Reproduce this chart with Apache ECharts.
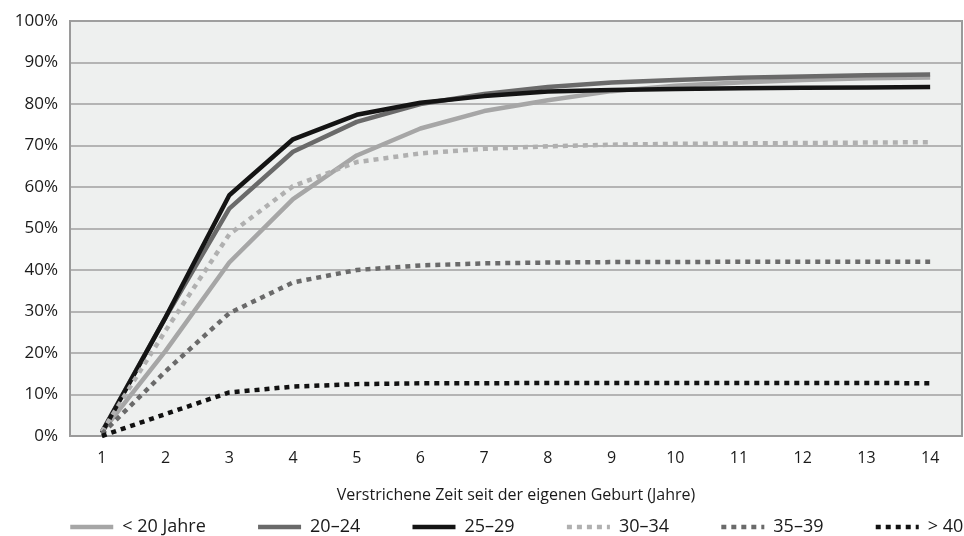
<!DOCTYPE html>
<html>
<head>
<meta charset="utf-8">
<script src="https://cdn.jsdelivr.net/npm/echarts@6/dist/echarts.min.js"></script>
<style>
  html, body { margin: 0; padding: 0; background: #fff; }
  #chart { width: 964px; height: 536px; }
</style>
</head>
<body>
<div id="chart"></div>
<script>
// Jahre seit der eigenen Geburt
const years = ['1', '2', '3', '4', '5', '6', '7', '8', '9', '10', '11', '12', '13', '14'];

// Anteile in Prozent je Altersgruppe
const under20 = [1, 20.5, 41.8, 57.1, 67.6, 74.1, 78.3, 80.9, 83.1, 84.4, 85.2, 85.8, 86.2, 86.4];
const age20to24 = [1, 28.6, 54.8, 68.5, 75.7, 80.0, 82.4, 84.1, 85.2, 85.8, 86.3, 86.6, 86.9, 87.1];
const age25to29 = [0.8, 28.6, 58.0, 71.5, 77.4, 80.3, 81.9, 83.0, 83.4, 83.6, 83.8, 83.9, 84.0, 84.1];
const age30to34 = [1, 25.4, 48.6, 60.2, 66.0, 68.1, 69.2, 69.8, 70.2, 70.4, 70.5, 70.6, 70.7, 70.8];
const age35to39 = [0.5, 15.6, 29.6, 37.0, 40.0, 41.1, 41.6, 41.8, 41.9, 41.9, 42.0, 42.0, 42.0, 42.0];
const over40 = [0, 5.3, 10.5, 11.9, 12.5, 12.7, 12.7, 12.8, 12.8, 12.8, 12.8, 12.8, 12.8, 12.7];

const seriesNames = ['< 20 Jahre', '20–24', '25–29', '30–34', '35–39', '> 40'];
const seriesData = [under20, age20to24, age25to29, age30to34, age35to39, over40];

const font = '"Open Sans", "Noto Sans", sans-serif';

// Farbe und Strichart je Serie
const styles = [
  { color: '#a6a6a6', type: 'solid' },
  { color: '#6a6a6a', type: 'solid' },
  { color: '#141414', type: 'solid' },
  { color: '#b0b0b0', type: [5, 5] },
  { color: '#6a6a6a', type: [5, 5] },
  { color: '#111111', type: [5, 5] }
];

const chart = echarts.init(document.getElementById('chart'));

chart.setOption({
  animation: false,
  backgroundColor: '#ffffff',
  textStyle: { fontFamily: font },
  grid: {
    left: 70,
    right: 2,
    top: 21,
    bottom: 100,
    show: true,
    backgroundColor: '#eef0ef',
    borderColor: '#9a9a9a',
    borderWidth: 2
  },
  legend: {
    top: 518,
    left: 68,
    width: 930,
    padding: 0,
    itemWidth: 43,
    itemHeight: 14,
    itemGap: 50,
    // nur die Linie zeigen, kein Symbol
    itemStyle: { opacity: 0 },
    lineStyle: { width: 4.5 },
    textStyle: { fontSize: 18, color: '#1a1a1a', fontFamily: font, padding: [0, 0, 0, 4] },
    data: seriesNames
  },
  xAxis: {
    type: 'category',
    data: years,
    boundaryGap: true,
    name: 'Verstrichene Zeit seit der eigenen Geburt (Jahre)',
    nameLocation: 'middle',
    nameGap: 51,
    nameTextStyle: { fontSize: 16, color: '#1a1a1a' },
    axisLine: { lineStyle: { color: '#9a9a9a', width: 2 } },
    axisTick: { show: false },
    axisLabel: { fontSize: 16, color: '#1a1a1a', margin: 14 }
  },
  yAxis: {
    type: 'value',
    min: 0,
    max: 100,
    interval: 10,
    axisLine: { show: true, lineStyle: { color: '#9a9a9a', width: 2 } },
    axisTick: { show: false },
    axisLabel: { fontSize: 17, color: '#1a1a1a', margin: 12, formatter: '{value}%' },
    splitLine: { lineStyle: { color: '#a0a0a0', width: 1.5 } }
  },
  series: seriesData.map((data, i) => {
    return {
      name: seriesNames[i],
      type: 'line',
      data: data,
      symbol: 'none',
      color: styles[i].color,
      lineStyle: {
        color: styles[i].color,
        width: 4.5,
        type: styles[i].type,
        cap: 'butt'
      }
    };
  })
});
</script>
</body>
</html>
